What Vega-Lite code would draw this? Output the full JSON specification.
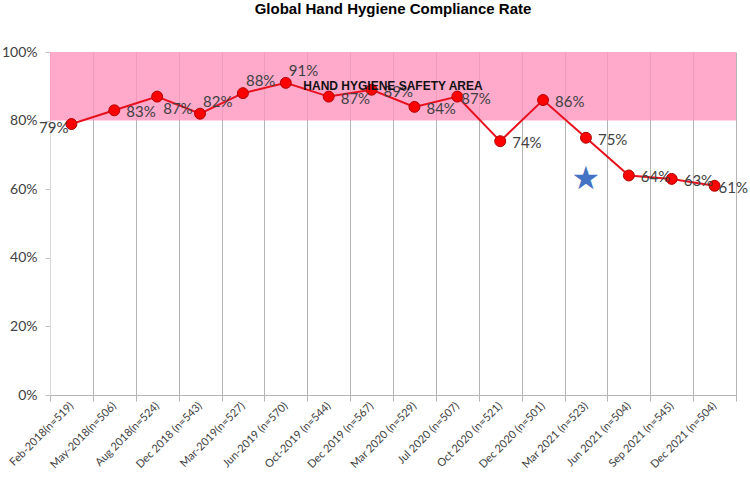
{
  "$schema": "https://vega.github.io/schema/vega-lite/v6.json",
  "width": 686,
  "height": 343,
  "autosize": {"type": "none"},
  "padding": {"left": 50, "top": 52, "right": 14, "bottom": 88},
  "background": "white",
  "title": {"text": "Global Hand Hygiene Compliance Rate", "font": "Liberation Sans Narrow, Liberation Sans, sans-serif", "fontSize": 15, "fontWeight": "bold", "color": "#000000", "anchor": "middle", "offset": 28},
  "config": {"view": {"stroke": null}},
  "data": {"values": [
      {"period": "Feb-2018(n=519)", "value": 79, "label": "79%"},
      {"period": "May-2018(n=506)", "value": 83, "label": "83%"},
      {"period": "Aug 2018(n=524)", "value": 87, "label": "87%"},
      {"period": "Dec 2018 (n=543)", "value": 82, "label": "82%"},
      {"period": "Mar-2019(n=527)", "value": 88, "label": "88%"},
      {"period": "Jun-2019 (n=570)", "value": 91, "label": "91%"},
      {"period": "Oct-2019 (n=544)", "value": 87, "label": "87%"},
      {"period": "Dec 2019 (n=567)", "value": 89, "label": "89%"},
      {"period": "Mar 2020 (n=529)", "value": 84, "label": "84%"},
      {"period": "Jul 2020 (n=507)", "value": 87, "label": "87%"},
      {"period": "Oct 2020 (n=521)", "value": 74, "label": "74%"},
      {"period": "Dec 2020 (n=501)", "value": 86, "label": "86%"},
      {"period": "Mar 2021 (n=523)", "value": 75, "label": "75%"},
      {"period": "Jun 2021 (n=504)", "value": 64, "label": "64%"},
      {"period": "Sep 2021 (n=545)", "value": 63, "label": "63%"},
      {"period": "Dec 2021 (n=504)", "value": 61, "label": "61%"}
  ]},
  "layer": [
    {
      "data": {"values": [{"low": 80, "high": 100}]},
      "mark": {"type": "rect", "color": "#ff93be", "opacity": 0.8},
      "encoding": {
        "x": {"value": 0},
        "x2": {"value": "width"},
        "y": {"field": "low", "type": "quantitative", "scale": {"domain": [0, 100], "nice": false},
          "axis": {"title": null, "values": [0, 10, 20, 30, 40, 50, 60, 70, 80, 90, 100], "tickCount": 10, "labelExpr": "datum.value + '%'", "labelOverlap": false, "grid": false, "domainColor": "#d9d9d9", "tickColor": "#bfbfbf", "tickSize": 5, "labelFont": "Lato", "labelFontSize": 14, "labelColor": "#404040", "labelPadding": 8}},
        "y2": {"field": "high"}
      }
    },
    {
      "mark": {"type": "line", "color": "#e8101c", "strokeWidth": 2},
      "encoding": {
        "x": {
          "field": "period", "type": "nominal",
          "scale": {"type": "band", "paddingInner": 0, "paddingOuter": 0,
            "domain": ["Feb-2018(n=519)", "May-2018(n=506)", "Aug 2018(n=524)", "Dec 2018 (n=543)", "Mar-2019(n=527)", "Jun-2019 (n=570)", "Oct-2019 (n=544)", "Dec 2019 (n=567)", "Mar 2020 (n=529)", "Jul 2020 (n=507)", "Oct 2020 (n=521)", "Dec 2020 (n=501)", "Mar 2021 (n=523)", "Jun 2021 (n=504)", "Sep 2021 (n=545)", "Dec 2021 (n=504)"]},
          "axis": {"title": null, "tickBand": "extent", "grid": true, "gridColor": "#b4b4b4", "domainColor": "#b4b4b4", "tickColor": "#b4b4b4", "tickSize": 6, "labelAngle": -45, "labelAlign": "right", "labelBaseline": "middle", "labelFont": "Lato", "labelFontSize": 11, "labelColor": "#404040", "labelPadding": 3}
        },
        "y": {"field": "value", "type": "quantitative",
          "axis": {"title": null, "values": [0, 10, 20, 30, 40, 50, 60, 70, 80, 90, 100], "tickCount": 10, "labelExpr": "datum.value + '%'", "labelOverlap": false, "grid": false, "domainColor": "#d9d9d9", "tickColor": "#bfbfbf", "tickSize": 5, "labelFont": "Lato", "labelFontSize": 14, "labelColor": "#404040", "labelPadding": 8}}
      }
    },
    {
      "mark": {"type": "point", "shape": "circle", "filled": true, "size": 120, "fill": "#ff0000", "stroke": "#b00000", "strokeWidth": 1, "opacity": 1},
      "encoding": {
        "x": {"field": "period", "type": "nominal"},
        "y": {"field": "value", "type": "quantitative"}
      }
    },
    {
      "transform": [{"filter": {"field": "period", "oneOf": ["May-2018(n=506)", "Oct-2019 (n=544)", "Dec 2019 (n=567)", "Mar 2020 (n=529)", "Oct 2020 (n=521)", "Dec 2020 (n=501)", "Mar 2021 (n=523)", "Jun 2021 (n=504)", "Sep 2021 (n=545)"]}}],
      "mark": {"type": "text", "align": "left", "baseline": "middle", "dx": 12, "dy": 2, "font": "Lato", "fontSize": 15, "color": "#404040"},
      "encoding": {
        "x": {"field": "period", "type": "nominal"},
        "y": {"field": "value", "type": "quantitative"},
        "text": {"field": "label", "type": "nominal"}
      }
    },
    {
      "transform": [{"filter": {"field": "period", "oneOf": ["Jul 2020 (n=507)", "Dec 2021 (n=504)"]}}],
      "mark": {"type": "text", "align": "left", "baseline": "middle", "dx": 4, "dy": 2, "font": "Lato", "fontSize": 15, "color": "#404040"},
      "encoding": {
        "x": {"field": "period", "type": "nominal"},
        "y": {"field": "value", "type": "quantitative"},
        "text": {"field": "label", "type": "nominal"}
      }
    },
    {
      "transform": [{"filter": {"field": "period", "oneOf": ["Feb-2018(n=519)"]}}],
      "mark": {"type": "text", "align": "right", "baseline": "middle", "dx": -3, "dy": 4, "font": "Lato", "fontSize": 15, "color": "#404040"},
      "encoding": {
        "x": {"field": "period", "type": "nominal"},
        "y": {"field": "value", "type": "quantitative"},
        "text": {"field": "label", "type": "nominal"}
      }
    },
    {
      "transform": [{"filter": {"field": "period", "oneOf": ["Dec 2018 (n=543)", "Mar-2019(n=527)", "Jun-2019 (n=570)"]}}],
      "mark": {"type": "text", "align": "left", "baseline": "middle", "dx": 3, "dy": -12, "font": "Lato", "fontSize": 15, "color": "#404040"},
      "encoding": {
        "x": {"field": "period", "type": "nominal"},
        "y": {"field": "value", "type": "quantitative"},
        "text": {"field": "label", "type": "nominal"}
      }
    },
    {
      "transform": [{"filter": {"field": "period", "oneOf": ["Aug 2018(n=524)"]}}],
      "mark": {"type": "text", "align": "left", "baseline": "middle", "dx": 6, "dy": 12, "font": "Lato", "fontSize": 15, "color": "#404040"},
      "encoding": {
        "x": {"field": "period", "type": "nominal"},
        "y": {"field": "value", "type": "quantitative"},
        "text": {"field": "label", "type": "nominal"}
      }
    },
    {
      "data": {"values": [{"period": "Mar 2020 (n=529)", "value": 90, "caption": "HAND HYGIENE SAFETY AREA"}]},
      "mark": {"type": "text", "align": "center", "baseline": "middle", "font": "Liberation Sans", "fontWeight": "bold", "fontSize": 12, "color": "#111111"},
      "encoding": {
        "x": {"field": "period", "type": "nominal", "bandPosition": 0},
        "y": {"field": "value", "type": "quantitative"},
        "text": {"field": "caption", "type": "nominal"}
      }
    },
    {
      "data": {"values": [{"period": "Mar 2021 (n=523)", "value": 63, "glyph": "★"}]},
      "mark": {"type": "text", "align": "center", "baseline": "middle", "font": "DejaVu Sans", "fontSize": 32, "color": "#4472c4"},
      "encoding": {
        "x": {"field": "period", "type": "nominal"},
        "y": {"field": "value", "type": "quantitative"},
        "text": {"field": "glyph", "type": "nominal"}
      }
    }
  ]
}
